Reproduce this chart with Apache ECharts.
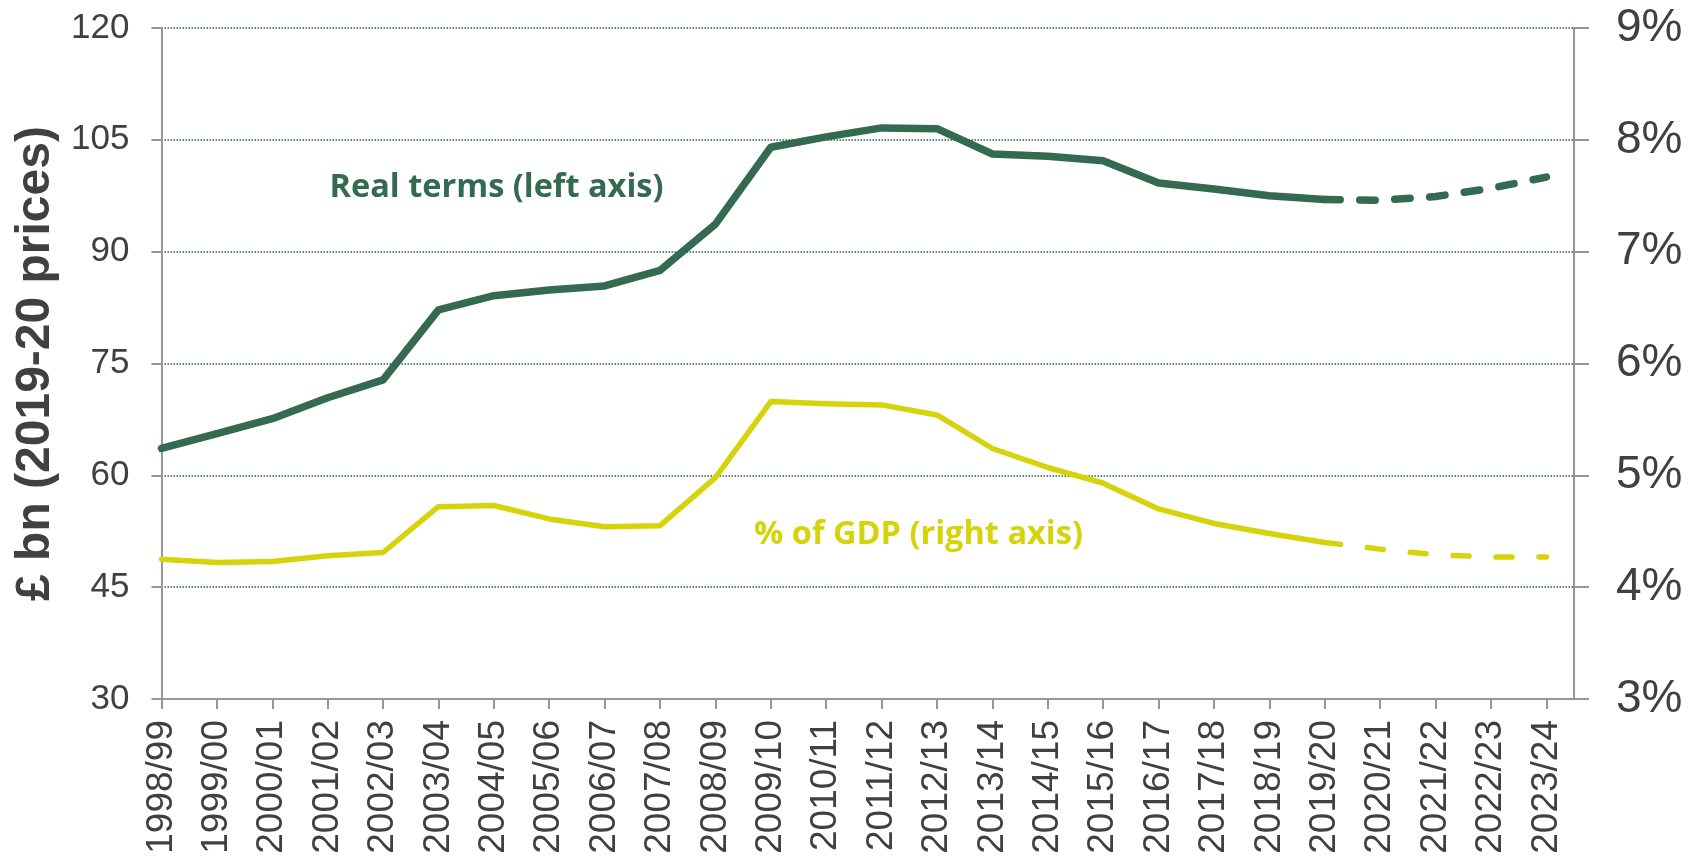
<!DOCTYPE html>
<html>
<head>
<meta charset="utf-8">
<script src="https://cdn.jsdelivr.net/npm/echarts@6/dist/echarts.min.js"></script>
<style>
html,body{margin:0;padding:0;background:#fff;}
#chart{width:1702px;height:860px;}
</style>
</head>
<body>
<div id="chart"></div>
<script>
// ---- data ----
var categories = ['1998/99','1999/00','2000/01','2001/02','2002/03','2003/04','2004/05','2005/06','2006/07','2007/08','2008/09','2009/10','2010/11','2011/12','2012/13','2013/14','2014/15','2015/16','2016/17','2017/18','2018/19','2019/20','2020/21','2021/22','2022/23','2023/24'];
var realTerms = [63.6, 65.6, 67.6, 70.4, 72.8, 82.2, 84.1, 84.85, 85.4, 87.5, 93.7, 104.0, 105.4, 106.6, 106.5, 103.1, 102.8, 102.2, 99.2, 98.4, 97.5, 97.0, 96.9, 97.4, 98.5, 100.0];
var pctGDP = [4.25, 4.22, 4.23, 4.28, 4.31, 4.72, 4.73, 4.61, 4.54, 4.55, 4.98, 5.66, 5.64, 5.63, 5.54, 5.24, 5.07, 4.93, 4.70, 4.57, 4.48, 4.40, 4.34, 4.29, 4.27, 4.27];
var lastOutturn = 21; // 2019/20: forecasts after this are dashed
var leftTicks = [30, 45, 60, 75, 90, 105, 120];
var rightTicks = [3, 4, 5, 6, 7, 8, 9];

var GREEN = '#336a50', YELLOW = '#d7d30b', AXIS = '#969696', TXT = '#404040';

function part(arr, from, to) {
  var out = [];
  for (var i = 0; i < arr.length; i++) {
    if (i >= from && i <= to) out.push([i, arr[i]]);
  }
  return out;
}
var idx = categories.map(function (c, i) { return i; });

var chart = echarts.init(document.getElementById('chart'), null, {renderer: 'canvas'});
var option = {
  animation: false,
  backgroundColor: '#fff',
  grid: {left: 161.5, right: 128, top: 28, bottom: 161, containLabel: false},
  xAxis: {
    type: 'value',
    min: 0,
    max: categories.length - 0.5,
    interval: 1,
    axisLine: {show: true, onZero: false, lineStyle: {color: AXIS, width: 2}},
    axisTick: {show: true, length: 10, inside: false, customValues: idx, lineStyle: {color: AXIS, width: 2}},
    splitLine: {show: false},
    axisLabel: {
      customValues: idx,
      rotate: 90, margin: 21,
      fontFamily: 'Liberation Sans, Arial, sans-serif', fontSize: 37, color: TXT,
      showMinLabel: true, showMaxLabel: true,
      formatter: function (v) { return Number.isInteger(v) && categories[v] ? categories[v] : ''; }
    }
  },
  yAxis: [{
    type: 'value', position: 'left',
    min: leftTicks[0], max: leftTicks[leftTicks.length - 1], interval: 15,
    name: '£ bn (2019-20 prices)', nameLocation: 'middle', nameRotate: 90, nameGap: 95,
    nameTextStyle: {fontFamily: 'Liberation Sans, Arial, sans-serif', fontWeight: 'bold', fontSize: 48, color: TXT},
    axisLine: {show: true, lineStyle: {color: AXIS, width: 2}},
    axisTick: {show: true, length: 10, lineStyle: {color: AXIS, width: 2}},
    axisLabel: {margin: 32, fontFamily: 'Liberation Sans, Arial, sans-serif', fontSize: 35, color: TXT},
    splitLine: {show: true, lineStyle: {color: '#285c46', width: 1.5, type: [1.5, 1.5]}}
  }, {
    type: 'value', position: 'right',
    min: rightTicks[0], max: rightTicks[rightTicks.length - 1], interval: 1,
    axisLine: {show: true, lineStyle: {color: AXIS, width: 2}},
    axisTick: {show: true, length: 15, lineStyle: {color: AXIS, width: 2}},
    axisLabel: {margin: 42, fontFamily: 'Liberation Sans, Arial, sans-serif', fontSize: 46, color: TXT, formatter: '{value}%'},
    splitLine: {show: false}
  }],
  series: [{
    name: 'Real terms', type: 'line', yAxisIndex: 0, symbol: 'none', z: 3,
    data: part(realTerms, 0, lastOutturn),
    lineStyle: {color: GREEN, width: 7.5, cap: 'round', join: 'round'}
  }, {
    name: 'Real terms forecast', type: 'line', yAxisIndex: 0, symbol: 'none', z: 3,
    data: part(realTerms, lastOutturn, realTerms.length - 1),
    lineStyle: {color: GREEN, width: 7.5, type: [15.5, 19.5], cap: 'round', join: 'round'}
  }, {
    name: '% of GDP', type: 'line', yAxisIndex: 1, symbol: 'none', z: 2,
    data: part(pctGDP, 0, lastOutturn),
    lineStyle: {color: YELLOW, width: 5.5, cap: 'round', join: 'round'}
  }, {
    name: '% of GDP forecast', type: 'line', yAxisIndex: 1, symbol: 'none', z: 2,
    data: part(pctGDP, lastOutturn, pctGDP.length - 1),
    lineStyle: {color: YELLOW, width: 5.5, type: [16, 27], cap: 'round', join: 'round'}
  }],
  graphic: [{
    type: 'text', x: 496.5, y: 188, z: 10,
    style: {text: 'Real terms (left axis)', fill: GREEN, font: 'bold 32.5px "Open Sans", sans-serif', textAlign: 'center', textVerticalAlign: 'middle'}
  }, {
    type: 'text', x: 918.5, y: 534.5, z: 10,
    style: {text: '% of GDP (right axis)', fill: YELLOW, font: 'bold 32.5px "Open Sans", sans-serif', textAlign: 'center', textVerticalAlign: 'middle'}
  }]
};
chart.setOption(option);
</script>
</body>
</html>
